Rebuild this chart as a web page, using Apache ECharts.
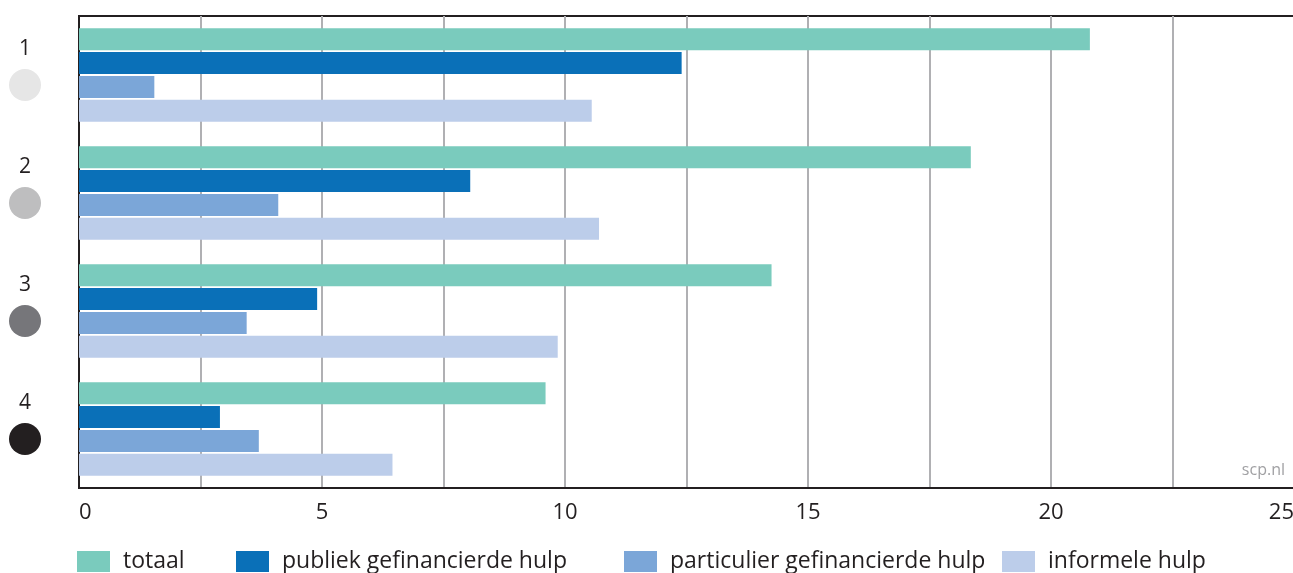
<!DOCTYPE html>
<html>
<head>
<meta charset="utf-8">
<script src="https://cdn.jsdelivr.net/npm/echarts@6/dist/echarts.min.js"></script>
<style>
  html, body { margin: 0; padding: 0; background: #fff; }
  #main { width: 1293px; height: 573px; }
</style>
</head>
<body>
<div id="main"></div>
<script>
const categories = ['1', '2', '3', '4'];
const circleColors = ['#e6e6e6', '#bebebf', '#76767a', '#231f20'];
const totaal = [20.8, 18.35, 14.25, 9.6];
const publiek = [12.4, 8.05, 4.9, 2.9];
const particulier = [1.55, 4.1, 3.45, 3.7];
const informeel = [10.55, 10.7, 9.85, 6.45];
const seriesNames = ['totaal', 'publiek gefinancierde hulp', 'particulier gefinancierde hulp', 'informele hulp'];
const seriesColors = ['#7acbbd', '#0a70b8', '#7ba6d8', '#bccdea'];
const legendLeft = [77, 236, 624, 1002];

const font = 'Open Sans';
const myChart = echarts.init(document.getElementById('main'));

const rich = {
  n: { fontSize: 21, lineHeight: 40, color: '#231f20', fontFamily: font, align: 'center' }
};
circleColors.forEach((c, i) => {
  rich['c' + i] = { width: 32, height: 32, borderRadius: 16, backgroundColor: c, align: 'center' };
});

const option = {
  animation: false,
  grid: {
    left: 79, right: -1, top: 16, bottom: 85,
    outerBoundsMode: 'none',
    show: true, borderColor: '#231f20', borderWidth: 2
  },
  legend: seriesNames.map((name, i) => ({
    data: [name],
    left: legendLeft[i],
    top: 550,
    padding: 0,
    itemWidth: 33,
    itemHeight: 21,
    icon: 'rect',
    textStyle: { fontSize: 23, color: '#231f20', fontFamily: font, padding: [8, 0, 0, 8] }
  })),
  xAxis: {
    type: 'value',
    min: 0,
    max: 25,
    interval: 2.5,
    axisLine: { show: true, lineStyle: { color: '#231f20', width: 2 } },
    axisTick: { show: false },
    splitLine: { show: true, lineStyle: { color: '#b0b0b3', width: 2 } },
    axisLabel: {
      margin: 14,
      fontSize: 22,
      color: '#231f20',
      fontFamily: font,
      alignMinLabel: 'left',
      alignMaxLabel: 'right',
      formatter: v => (v % 5 === 0 ? String(v) : '')
    }
  },
  yAxis: {
    type: 'category',
    data: categories,
    inverse: true,
    axisLine: { show: true, lineStyle: { color: '#231f20', width: 2 } },
    axisTick: { show: false },
    axisLabel: {
      margin: 54,
      align: 'center',
      padding: [0, 0, 20, 0],
      formatter: (v, i) => '{n|' + v + '}\n{c' + i + '| }',
      rich: rich
    }
  },
  graphic: [{
    type: 'text',
    right: 8,
    top: 462,
    style: { text: 'scp.nl', fontSize: 16, fill: '#a0a0a3', fontFamily: font }
  }],
  series: [totaal, publiek, particulier, informeel].map((d, i) => ({
    name: seriesNames[i],
    type: 'bar',
    data: d,
    barWidth: 22,
    barGap: '8%',
    itemStyle: { color: seriesColors[i] }
  }))
};
myChart.setOption(option);
</script>
</body>
</html>
